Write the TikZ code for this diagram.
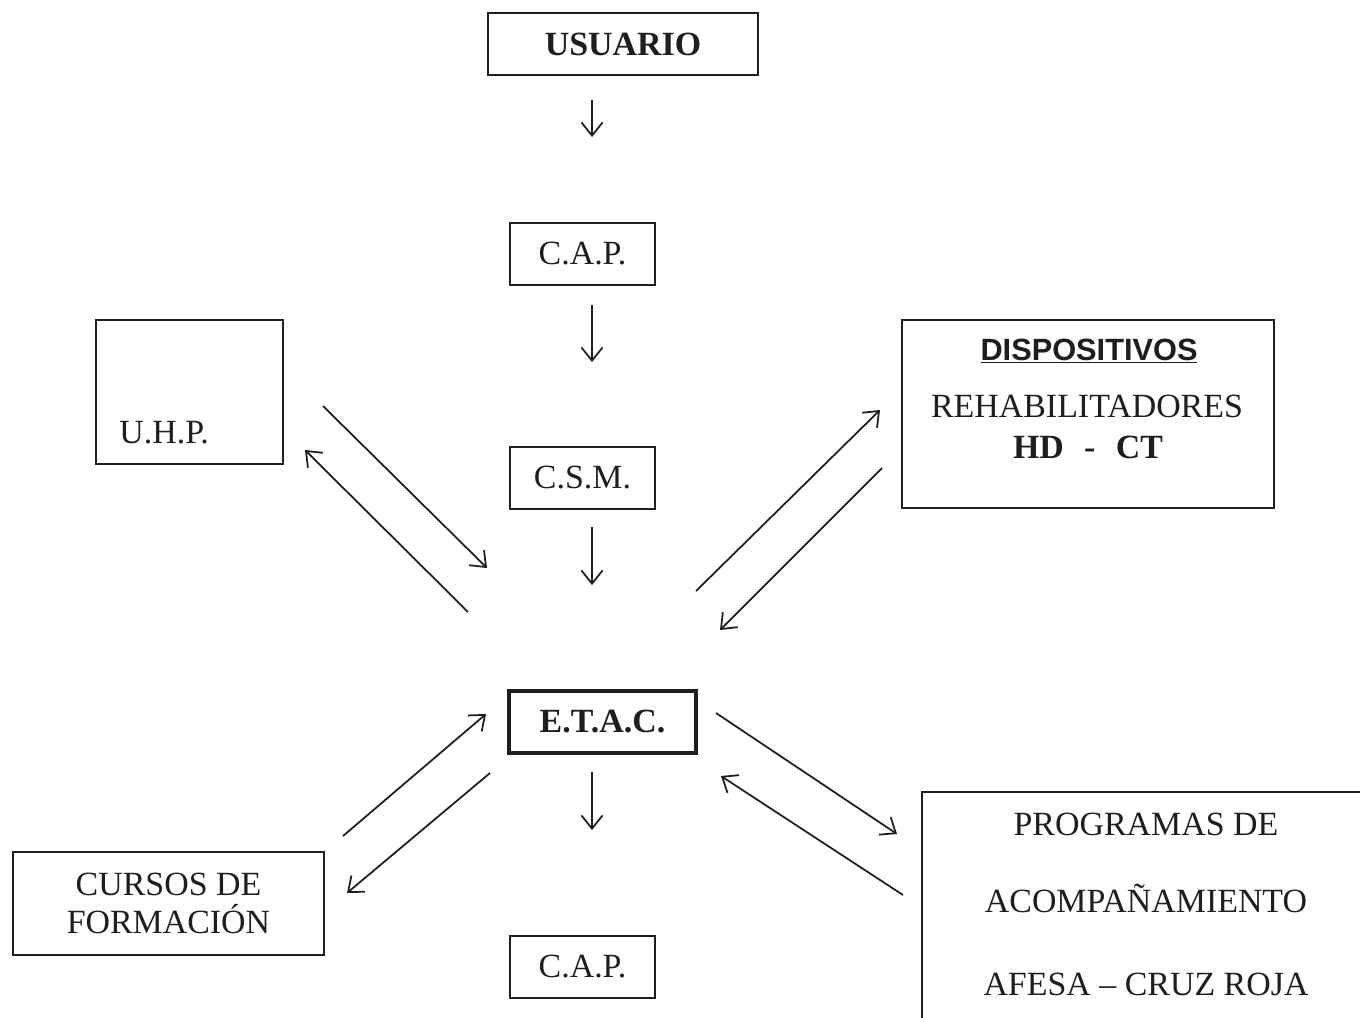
\documentclass[tikz,border=0pt]{standalone}
\usepackage{fontspec}
\setmainfont{Liberation Serif}
\newfontfamily\sansf{Liberation Sans}
\usetikzlibrary{arrows.meta}
\definecolor{ink}{HTML}{1E1E1E}
\begin{document}
\begin{tikzpicture}[x=0.02cm,y=-0.02cm,
  every node/.style={font=\fontsize{19.3pt}{22pt}\selectfont, text=ink},
  box/.style={draw=ink, line width=1.1pt, inner sep=0pt},
  arr/.style={draw=ink, line width=1pt, -{Straight Barb[length=7.5pt,width=12pt]}}]
\path[use as bounding box] (0,0) rectangle (1360,1018);
\clip (0,0) rectangle (1360,1018);
\fill[white] (0,0) rectangle (1360,1018);
% boxes
\node[box, minimum width=5.4cm, minimum height=1.24cm, font=\fontsize{19.3pt}{22pt}\selectfont\bfseries] (usuario) at (623,44) {USUARIO};
\node[box, minimum width=2.9cm, minimum height=1.24cm] (cap1) at (582.5,254) {C.A.P.};
\node[box, minimum width=2.9cm, minimum height=1.24cm] (csm) at (582.5,478) {C.S.M.};
\node[box, line width=2.2pt, minimum width=3.74cm, minimum height=1.24cm, font=\fontsize{19.3pt}{22pt}\selectfont\bfseries] (etac) at (602.5,722) {E.T.A.C.};
\node[box, minimum width=2.9cm, minimum height=1.24cm] (cap2) at (582.5,967) {C.A.P.};
\node[box, minimum width=3.74cm, minimum height=2.88cm] (uhp) at (189.5,392) {};
\node[anchor=base west, inner sep=0pt] (uhpt) at (119,443) {U.H.P.};
\node[box, minimum width=7.44cm, minimum height=3.76cm] (disp) at (1088,414) {};
\node[anchor=base, inner sep=0pt, font=\fontsize{17.5pt}{20pt}\selectfont\sansf\bfseries] (dispa) at (1089,360) {\underline{DISPOSITIVOS}};
\node[anchor=base, inner sep=0pt] (dispb) at (1087,417) {REHABILITADORES};
\node[anchor=base, inner sep=0pt, font=\fontsize{19.3pt}{22pt}\selectfont\bfseries] (dispc) at (1088,458) {HD\hspace{0.6em}-\hspace{0.6em}CT};
\node[box, minimum width=6.22cm, minimum height=2.06cm, align=center] (cursos) at (168.5,903.5) {CURSOS DE\\FORMACIÓN};
\node[box, anchor=north west, minimum width=9.2cm, minimum height=5cm] (prog) at (921,791) {};
\node[anchor=base, inner sep=0pt] (proga) at (1146,835) {PROGRAMAS DE};
\node[anchor=base, inner sep=0pt] (progb) at (1146,912) {ACOMPAÑAMIENTO};
\node[anchor=base, inner sep=0pt] (progc) at (1146,995) {AFESA -- CRUZ ROJA};
% arrow end points
\coordinate (v1a) at (592,100); \coordinate (v1b) at (592,137);
\coordinate (v2a) at (592,305); \coordinate (v2b) at (592,362);
\coordinate (v3a) at (592,527); \coordinate (v3b) at (592,585);
\coordinate (v4a) at (592,772); \coordinate (v4b) at (592,830);
\coordinate (ue1) at (323,406); \coordinate (ue2) at (487,568);
\coordinate (eu1) at (468,612); \coordinate (eu2) at (305,450);
\coordinate (ed1) at (696,591); \coordinate (ed2) at (880,410);
\coordinate (de1) at (882,468); \coordinate (de2) at (720,630);
\coordinate (ce1) at (343,836); \coordinate (ce2) at (486,714);
\coordinate (ec1) at (490,773); \coordinate (ec2) at (347,893);
\coordinate (ep1) at (716,713); \coordinate (ep2) at (897,834);
\coordinate (pe1) at (903,895); \coordinate (pe2) at (721,776);
% arrows
\draw[arr] (v1a) -- (v1b);
\draw[arr] (v2a) -- (v2b);
\draw[arr] (v3a) -- (v3b);
\draw[arr] (v4a) -- (v4b);
\draw[arr] (ue1) -- (ue2);
\draw[arr] (eu1) -- (eu2);
\draw[arr] (ed1) -- (ed2);
\draw[arr] (de1) -- (de2);
\draw[arr] (ce1) -- (ce2);
\draw[arr] (ec1) -- (ec2);
\draw[arr] (ep1) -- (ep2);
\draw[arr] (pe1) -- (pe2);
\end{tikzpicture}
\end{document}
